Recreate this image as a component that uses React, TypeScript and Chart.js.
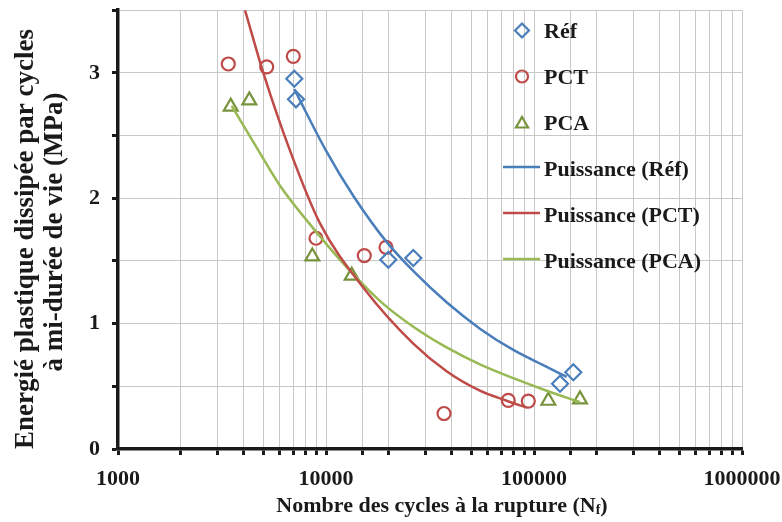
import React, { useEffect, useRef } from 'react';
import { Chart, registerables } from 'chart.js';

Chart.register(...registerables);

// Measured points (N cycles, energy MPa)
const refN = [7041, 7175, 19930, 26290, 133400, 154500];
const refE = [2.953, 2.789, 1.51, 1.523, 0.52, 0.612];
const pctN = [3391, 5186, 6963, 8953, 15280, 19430, 36930, 75220, 93880];
const pctE = [3.071, 3.048, 3.132, 1.681, 1.543, 1.609, 0.283, 0.388, 0.382];
const pcaN = [3482, 4279, 8594, 13290, 117200, 166400];
const pcaE = [2.731, 2.781, 1.536, 1.383, 0.385, 0.396];

// Power trend lines
const fitRefN = [7041, 10000, 13520, 19590, 27000, 38000, 54950, 79540, 115100, 143600];
const fitRefE = [2.87, 2.38, 2.02, 1.65, 1.4, 1.17, 0.96, 0.79, 0.655, 0.575];
const fitPctN = [4080, 4997, 6714, 9355, 15400, 26290, 38000, 54950, 73920, 92300];
const fitPctE = [3.5, 3.0, 2.38, 1.8, 1.27, 0.84, 0.62, 0.465, 0.385, 0.33];
const fitPcaN = [3521, 4816, 6012, 8690, 12570, 18200, 26290, 38000, 54950, 79540, 115100, 166400];
const fitPcaE = [2.737, 2.36, 2.1, 1.76, 1.45, 1.18, 0.975, 0.81, 0.675, 0.565, 0.465, 0.374];

const xTickLabels = [1000, 10000, 100000, 1000000];
const yTickLabels = [0, 1, 2, 3];
const legendLabels = ['Réf', 'PCT', 'PCA', 'Puissance (Réf)', 'Puissance (PCT)', 'Puissance (PCA)'];
const yTitleLines = ['Energié plastique dissipée par cycles', 'à mi-durée de vie (MPa)'];
const xTitleMain = 'Nombre des cycles à la rupture (N';
const xTitleSub = 'f';
const xTitleEnd = ')';

const BLUE = '#4a7ebb';
const RED = '#be4b48';
const GREEN_M = '#77933c';
const GREEN_L = '#98b954';
const TEXT = '#1a1a1a';
const FONT = "'Liberation Serif', 'Times New Roman', serif";

const pts = (xs: number[], ys: number[]) => xs.map((x, i) => ({ x, y: ys[i] }));

function drawMarker(ctx: CanvasRenderingContext2D, kind: string, x: number, y: number, r: number) {
  ctx.beginPath();
  if (kind === 'diamond') {
    ctx.moveTo(x - r, y);
    ctx.lineTo(x, y - r);
    ctx.lineTo(x + r, y);
    ctx.lineTo(x, y + r);
    ctx.closePath();
  } else if (kind === 'circle') {
    ctx.arc(x, y, r, 0, Math.PI * 2);
  } else {
    const a = Math.PI * 2 / 3;
    ctx.moveTo(x, y - r);
    ctx.lineTo(x + Math.sin(a) * r, y - Math.cos(a) * r);
    ctx.lineTo(x + Math.sin(2 * a) * r, y - Math.cos(2 * a) * r);
    ctx.closePath();
  }
  ctx.stroke();
}

const decorPlugin = {
  id: 'decor',
  afterDraw(chart: any) {
    const ctx: CanvasRenderingContext2D = chart.ctx;
    ctx.save();
    // Legend
    const markerX = 522;
    const textX = 544;
    const rows = [30.5, 76.5, 123, 169, 215, 261];
    const kinds = ['diamond', 'circle', 'triangle'];
    const mColors = [BLUE, RED, GREEN_M];
    const lColors = [BLUE, RED, GREEN_L];
    ctx.font = `bold 22px ${FONT}`;
    ctx.textAlign = 'left';
    ctx.textBaseline = 'alphabetic';
    legendLabels.forEach((lab, i) => {
      const ry = rows[i];
      ctx.lineWidth = 2.2;
      if (i < 3) {
        ctx.strokeStyle = mColors[i];
        drawMarker(ctx, kinds[i], markerX, ry + (i === 2 ? 1 : 0), i === 1 ? 6 : 7);
      } else {
        ctx.strokeStyle = lColors[i - 3];
        ctx.lineWidth = 2.5;
        ctx.beginPath();
        ctx.moveTo(503, ry - 2);
        ctx.lineTo(540, ry - 2);
        ctx.stroke();
      }
      ctx.fillStyle = TEXT;
      ctx.fillText(lab, textX, ry + 7);
    });

    // Y title
    ctx.font = `bold 27px ${FONT}`;
    ctx.textAlign = 'center';
    ctx.fillStyle = TEXT;
    [[33, 239], [62, 232]].forEach(([bx, yc], i) => {
      ctx.save();
      ctx.translate(bx, yc);
      ctx.rotate(-Math.PI / 2);
      ctx.fillText(yTitleLines[i], 0, 0);
      ctx.restore();
    });

    // X title with subscript
    const big = `bold 22px ${FONT}`;
    const small = `bold 14px ${FONT}`;
    ctx.textAlign = 'left';
    ctx.font = big;
    const w1 = ctx.measureText(xTitleMain).width;
    const w3 = ctx.measureText(xTitleEnd).width;
    ctx.font = small;
    const w2 = ctx.measureText(xTitleSub).width;
    const total = w1 + w2 + w3;
    let sx = 442 - total / 2;
    const by = 512;
    ctx.font = big;
    ctx.fillText(xTitleMain, sx, by);
    sx += w1;
    ctx.font = small;
    ctx.fillText(xTitleSub, sx, by + 2);
    sx += w2;
    ctx.font = big;
    ctx.fillText(xTitleEnd, sx, by);
    ctx.restore();
  },
};

export default function App() {
  const ref = useRef<HTMLCanvasElement>(null);
  useEffect(() => {
    if (!ref.current) return;
    const lineDs = (label: string, xs: number[], ys: number[], color: string) => ({
      label,
      data: pts(xs, ys),
      showLine: true,
      borderColor: color,
      borderWidth: 2.5,
      pointRadius: 0,
      pointHoverRadius: 0,
      cubicInterpolationMode: 'monotone' as const,
      fill: false,
    });
    const markDs = (label: string, xs: number[], ys: number[], color: string, style: string, r: number) => ({
      label,
      data: pts(xs, ys),
      showLine: false,
      pointStyle: style,
      pointRadius: r,
      pointBorderWidth: 2.2,
      pointBorderColor: color,
      pointBackgroundColor: 'rgba(255,255,255,0)',
      borderColor: color,
      backgroundColor: 'rgba(255,255,255,0)',
    });
    const chart = new Chart(ref.current, {
      type: 'scatter',
      data: {
        datasets: [
          lineDs(legendLabels[3], fitRefN, fitRefE, BLUE),
          lineDs(legendLabels[4], fitPctN, fitPctE, RED),
          lineDs(legendLabels[5], fitPcaN, fitPcaE, GREEN_L),
          markDs(legendLabels[0], refN, refE, BLUE, 'rectRot', 8),
          markDs(legendLabels[1], pctN, pctE, RED, 'circle', 6.5),
          markDs(legendLabels[2], pcaN, pcaE, GREEN_M, 'triangle', 8),
        ] as any,
      },
      plugins: [decorPlugin],
      options: {
        responsive: false,
        animation: false,
        layout: { padding: { left: 0, top: 7, right: 40, bottom: 0 } },
        plugins: { legend: { display: false }, tooltip: { enabled: false } },
        scales: {
          x: {
            type: 'logarithmic',
            min: 1000,
            max: 1000000,
            afterFit: (s: any) => {
              s.height = 73;
              s.paddingLeft = 0;
              s.paddingRight = 0;
            },
            grid: {
              color: '#c8c8c8',
              lineWidth: 1,
              drawTicks: true,
              tickLength: 6,
              tickColor: TEXT,
              tickWidth: 3,
            },
            border: { display: true, color: TEXT, width: 3.5 },
            ticks: {
              autoSkip: false,
              maxRotation: 0,
              padding: 11,
              color: TEXT,
              font: { family: FONT, size: 22, weight: 'bold' },
              callback: (v: any) => (xTickLabels.includes(Number(v)) ? String(v) : ''),
            },
          },
          y: {
            min: 0,
            max: 3.5,
            afterFit: (s: any) => {
              s.width = 118;
              s.paddingTop = 0;
              s.paddingBottom = 0;
            },
            grid: {
              color: '#c8c8c8',
              lineWidth: 1,
              drawTicks: true,
              tickLength: 6,
              tickColor: TEXT,
              tickWidth: 3,
            },
            border: { display: true, color: TEXT, width: 3.5 },
            ticks: {
              stepSize: 0.5,
              padding: 12,
              color: TEXT,
              font: { family: FONT, size: 22, weight: 'bold' },
              callback: (v: any) => (yTickLabels.includes(Number(v)) ? String(v) : ''),
            },
          },
        },
      } as any,
    });
    return () => chart.destroy();
  }, []);
  return (
    <div style={{ position: 'absolute', left: 0, top: 0, width: 782, height: 522, background: '#fff' }}>
      <canvas ref={ref} width={782} height={522} />
    </div>
  );
}
